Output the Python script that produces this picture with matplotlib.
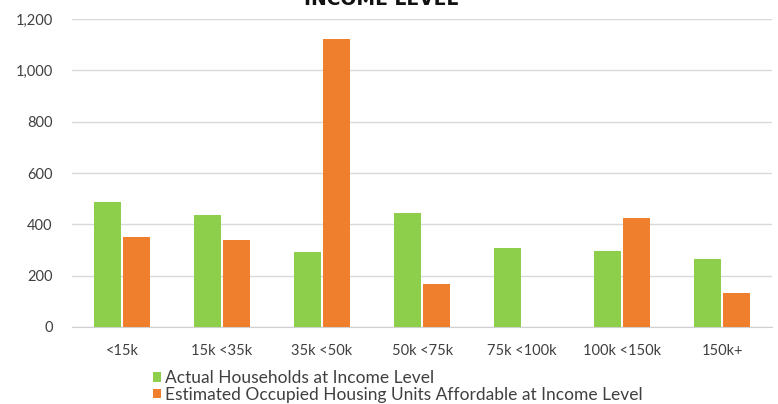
import numpy as np
import matplotlib.pyplot as plt

plt.rcParams['font.family'] = ['Lato', 'DejaVu Sans']

# income brackets and counts
brackets = ['<15k', '15k <35k', '35k <50k', '50k <75k', '75k <100k', '100k <150k', '150k+']
households = [488, 435, 291, 443, 307, 296, 265]
affordable_units = [349, 339, 1122, 166, 0, 426, 131]

green = '#8DCF4B'
orange = '#F07F2D'
text_col = '#404040'

fig = plt.figure(figsize=(7.78, 4.04), dpi=100)
ax = fig.add_axes([0.0925, 0.1906, 0.9, 0.762])

x = np.arange(len(brackets))
w = 0.27
ax.bar(x - w / 2 - 0.01, households, width=w, color=green, label='Actual Households at Income Level', zorder=3)
ax.bar(x + w / 2 + 0.01, affordable_units, width=w, color=orange,
       label='Estimated Occupied Housing Units Affordable at Income Level', zorder=3)

ax.set_xlim(-0.5, len(brackets) - 0.5)
ax.set_ylim(0, 1200)
ax.set_yticks(np.arange(0, 1201, 200))
ax.set_yticklabels(['0', '200', '400', '600', '800', '1,000', '1,200'])
ax.set_xticks(x)
ax.set_xticklabels(brackets)
ax.tick_params(axis='both', length=0, labelsize=10.5, colors=text_col)
ax.tick_params(axis='y', pad=14)
ax.tick_params(axis='x', pad=12)

ax.grid(axis='y', color='#d9d9d9', linewidth=1, zorder=0)
for side in ['top', 'right', 'left']:
    ax.spines[side].set_visible(False)
ax.spines['bottom'].set_color('#d0d0d0')

# title sits partly above the canvas
fig.text(0.49, 0.978, 'INCOME LEVEL', ha='center', va='bottom', fontsize=13.5,
         fontweight='bold', color='#111111', fontfamily='DejaVu Sans')

fig.legend(loc='upper left', bbox_to_anchor=(0.197, 0.084), frameon=False, fontsize=12.5,
           handlelength=0.45, handleheight=0.45, handletextpad=0.25, labelspacing=0.05,
           borderaxespad=0, borderpad=0, labelcolor=text_col)

fig.savefig('out.png', dpi=100)
